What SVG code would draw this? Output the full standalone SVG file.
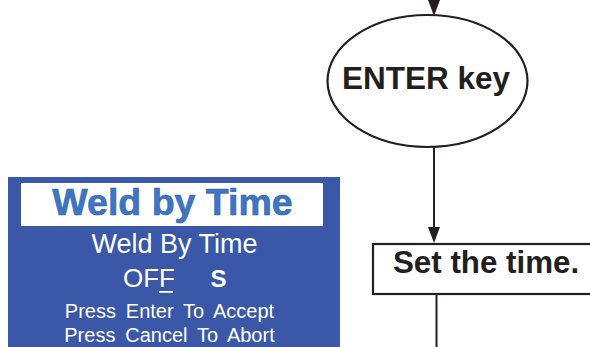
<svg xmlns="http://www.w3.org/2000/svg" width="590" height="347" viewBox="0 0 590 347">
<style>
.shape{fill:#fff;stroke:#231f20;stroke-width:2.2}
.conn{stroke:#231f20;stroke-width:2;fill:none}
.head{fill:#231f20}
.lbl{font-family:"Liberation Sans",Arial,sans-serif;font-weight:bold;fill:#231f20}
.scr{font-family:"Liberation Sans",Arial,sans-serif;fill:#fff}
</style>
<g id="connectors">
<line class="conn" x1="434" y1="0" x2="434" y2="3"/>
<polygon class="head" points="428,0 440,0 434,16"/>
<line class="conn" x1="434" y1="147" x2="434" y2="228"/>
<polygon class="head" points="428,227 440,227 434,243"/>
<line class="conn" x1="436.5" y1="294" x2="436.5" y2="347"/>
</g>
<g id="enter-key">
<ellipse class="shape" cx="427.5" cy="81" rx="100" ry="66"/>
<text class="lbl" x="426" y="89" font-size="31.5" text-anchor="middle">ENTER key</text>
</g>
<g id="set-time">
<rect class="shape" x="373" y="244" width="220" height="50"/>
<text class="lbl" x="393" y="273" font-size="31.3">Set the time.</text>
</g>
<g id="screen">
<rect x="8" y="177" width="332" height="175" fill="#3b57a7"/>
<rect x="21" y="183" width="302" height="43" fill="#fff"/>
<text x="172.5" y="215" font-family="'Liberation Sans',Arial,sans-serif" font-weight="bold" font-size="37.5" fill="#3f76c0" stroke="#2f62ae" stroke-width="0.6" text-anchor="middle">Weld by Time</text>
<text class="scr" x="174.5" y="253" font-size="27" text-anchor="middle">Weld By Time</text>
<text class="scr" x="123" y="287" font-size="26">OFF</text>
<rect x="159" y="291" width="14" height="1.8" fill="#fff"/>
<text class="scr" x="210.5" y="287" font-size="24" font-weight="bold">S</text>
<text class="scr" x="169.5" y="318" font-size="20" word-spacing="4.3" text-anchor="middle">Press Enter To Accept</text>
<text class="scr" x="169.5" y="342" font-size="20" word-spacing="4.3" text-anchor="middle">Press Cancel To Abort</text>
</g>
</svg>
